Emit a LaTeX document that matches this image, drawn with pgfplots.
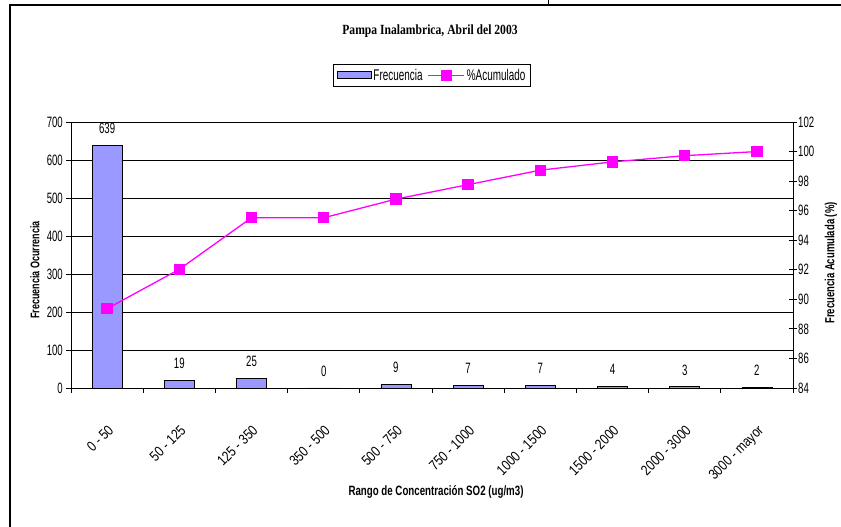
\documentclass[border=0pt]{standalone}
\usepackage{pgfplots}
\pgfplotsset{compat=1.18}
\usepackage{fontspec}
\setmainfont{Liberation Sans}[FakeStretch=0.72]
\newfontfamily\narrowfont{Liberation Sans}[FakeStretch=0.64]
\newfontfamily\ticklabfont{Liberation Sans}[FakeStretch=0.82]
\newfontfamily\titlefont{Liberation Serif}[FakeStretch=0.83]
\definecolor{barblue}{RGB}{153,153,255}
\definecolor{mag}{RGB}{255,0,255}
\pgfplotsset{mylineleg/.style={legend image code/.code={\draw[mark repeat=2,mark phase=2,##1] plot coordinates {(0pt,0pt) (18pt,0pt) (36pt,0pt)};}}}
\begin{document}
\begin{tikzpicture}[x=1pt,y=1pt]
\path[use as bounding box] (0,0) rectangle (841,527);
\draw[line width=1.2pt] (10,0) -- (10,522) -- (841,522);
\draw[line width=1pt] (548,522) -- (548,527);
\node[font=\titlefont\bfseries\fontsize{14}{16}\selectfont] at (430,496) {Pampa Inalambrica, Abril del 2003};
\node[font=\bfseries\fontsize{12.5}{14}\selectfont, rotate=90] at (35,257) {Frecuencia Ocurrencia};
\node[font=\bfseries\fontsize{13.2}{15}\selectfont, rotate=90] at (831,264) {Frecuencia Acumulada (\%)};
\node[font=\bfseries\fontsize{13.5}{15}\selectfont] at (436,35) {Rango de Concentración SO2 (ug/m3)};
\begin{axis}[
  at={(71pt,139pt)}, anchor=south west, scale only axis,
  width=722pt, height=266pt,
  clip=false,
  xmin=-0.5, xmax=9.5, ymin=0, ymax=700,
  ytick={0,100,...,700},
  axis x line=bottom, axis y line=left,
  axis line style={-, black, line width=0.8pt},
  ymajorgrids, grid style={black, line width=0.6pt},
  xtick={0,...,9},
  xticklabels={0 - 50, 50 - 125, 125 - 350, 350 - 500, 500 - 750, 750 - 1000, 1000 - 1500, 1500 - 2000, 2000 - 3000, 3000 - mayor},
  major x tick style={draw=none},
  minor xtick={-0.5,0.5,...,9.5},
  minor tick length=5pt,
  major tick length=5pt,
  tick align=outside,
  tick style={black, line width=0.8pt},
  xticklabel style={yshift=-31pt, rotate=45, anchor=north east, inner sep=0pt, font=\ticklabfont\fontsize{14.5}{16}\selectfont},
  yticklabel style={font=\narrowfont\fontsize{15}{16}\selectfont, inner sep=1pt, xshift=-2pt},
  /pgf/number format/assume math mode=true,
]
\addplot[ybar, bar width=30pt, fill=barblue, draw=black, line width=0.8pt,
  nodes near coords,
  every node near coord/.style={anchor=center, yshift=17pt, font=\narrowfont\fontsize{15}{16}\selectfont, black},
] coordinates {(0,639) (1,19) (2,25) (3,0) (4,9) (5,7) (6,7) (7,4) (8,3) (9,2)};
\end{axis}
\begin{axis}[
  at={(71pt,139pt)}, anchor=south west, scale only axis,
  width=722pt, height=266pt,
  clip=false,
  xmin=-0.5, xmax=9.5, ymin=84, ymax=102,
  ytick={84,86,...,102},
  axis y line*=right, axis x line=none,
  axis line style={-, black, line width=0.8pt},
  tick align=center, major tick length=8pt,
  tick style={black, line width=0.8pt},
  yticklabel style={font=\narrowfont\fontsize{15}{16}\selectfont, inner sep=1pt},
  /pgf/number format/assume math mode=true,
  legend columns=2,
  legend style={at={(0.5,1.176)}, anchor=center, draw=black, line width=0.6pt,
    font=\narrowfont\fontsize{15.5}{17}\selectfont, inner sep=3pt,
    /tikz/every even column/.append style={column sep=3pt}},
]
\addlegendimage{legend image code/.code={\draw[fill=barblue,draw=black,line width=0.8pt] (0pt,-3.5pt) rectangle (34pt,3.5pt);}}
\addplot[mag, line width=1.3pt, mark=square*, mark size=5pt, mark options={fill=mag, draw=mag}, mylineleg]
 coordinates {(0,89.37) (1,92.03) (2,95.52) (3,95.52) (4,96.78) (5,97.76) (6,98.74) (7,99.30) (8,99.72) (9,100)};
\legend{Frecuencia, \%Acumulado}
\end{axis}
\end{tikzpicture}
\end{document}
